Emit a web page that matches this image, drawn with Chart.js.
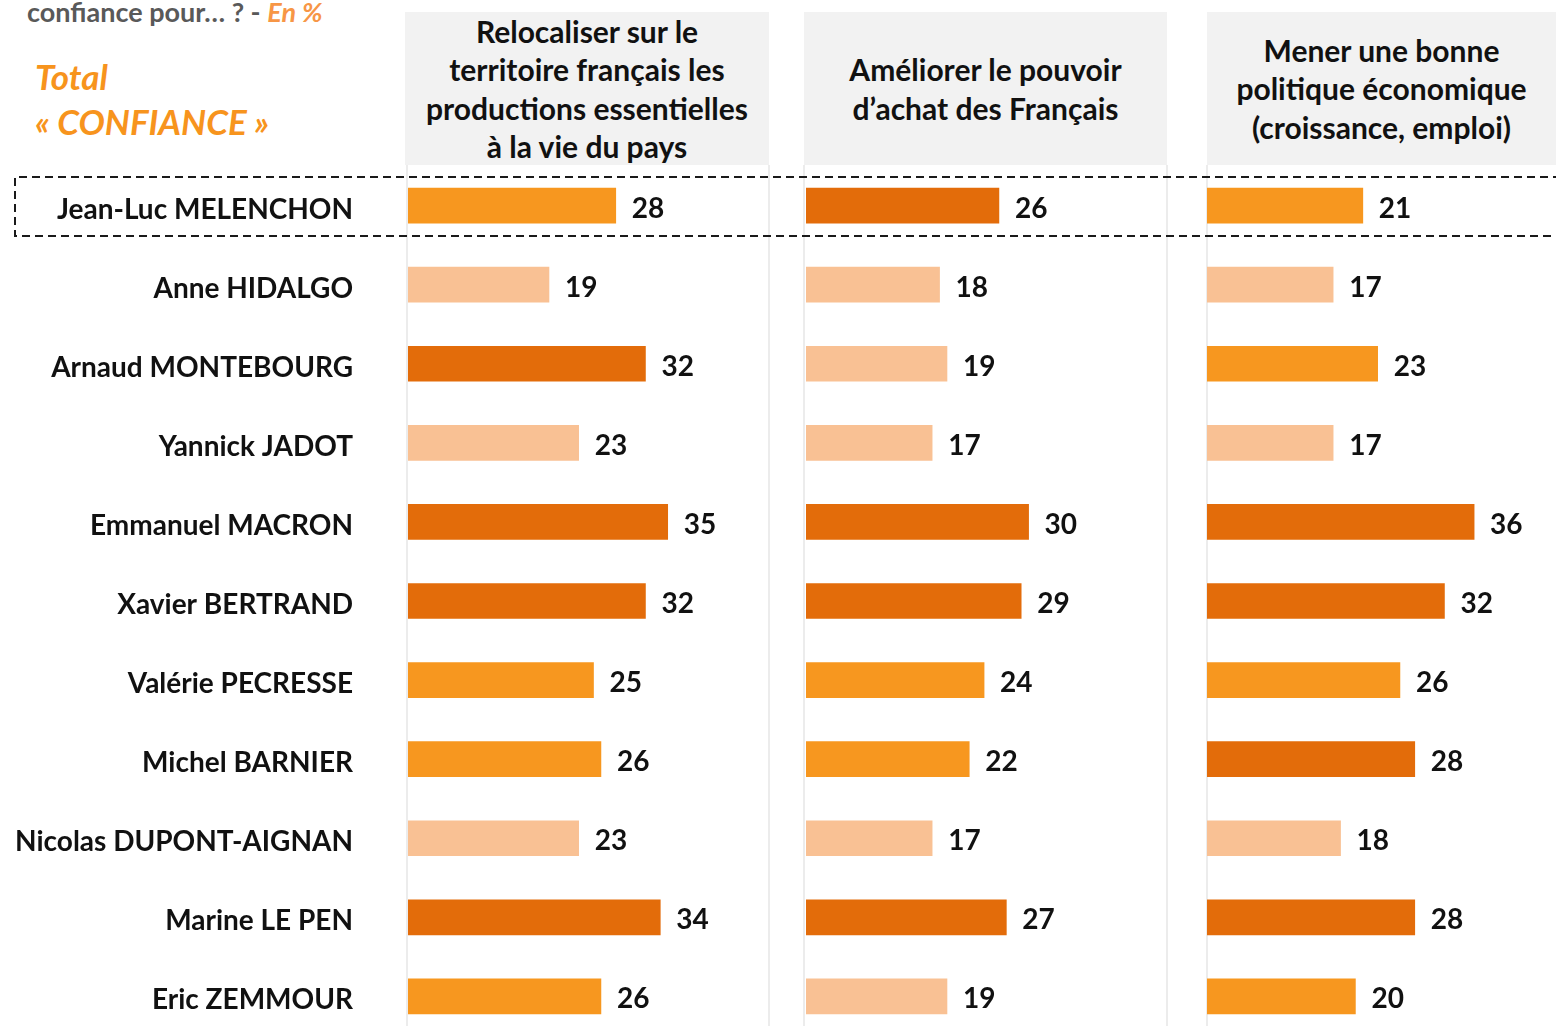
<!DOCTYPE html>
<html>
<head>
<meta charset="utf-8">
<script src="https://cdn.jsdelivr.net/npm/chart.js@4"></script>
<style>
  body { margin: 0; background: #fff; overflow: hidden; width: 1556px; height: 1026px; position: relative; font-family: Lato, "Open Sans", sans-serif; }
  .abs { position: absolute; }
  .entete { position: absolute; top: 12px; height: 153px; background: #f2f2f2; display: flex; align-items: center; justify-content: center; text-align: center; font-weight: bold; font-size: 30px; line-height: 38.5px; color: #111; }
  .trait { position: absolute; top: 165px; height: 861px; width: 2px; background: #ececec; }
  canvas { position: absolute; }
</style>
</head>
<body>

<div class="abs" style="left:27px; top:-5px; font-size:27px; font-weight:bold; color:#595959;">confiance pour… ? - <span style="color:#F79646; font-style:italic;">En %</span></div>
<div class="abs" style="left:35px; top:54px; font-size:35px; font-weight:bold; font-style:italic; color:#F7941D; line-height:45px;">Total<br>« CONFIANCE »</div>

<div class="entete" style="left:405px; width:364px;">Relocaliser sur le<br>territoire français les<br>productions essentielles<br>à la vie du pays</div>
<div class="entete" style="left:804px; width:363px;">Améliorer le pouvoir<br>d’achat des Français</div>
<div class="entete" style="left:1207px; width:349px;">Mener une bonne<br>politique économique<br>(croissance, emploi)</div>

<div class="trait" style="left:406px;"></div>
<div class="trait" style="left:768px;"></div>
<div class="trait" style="left:803px;"></div>
<div class="trait" style="left:1166px;"></div>
<div class="trait" style="left:1206px;"></div>

<canvas id="panel1" width="779" height="870" style="left:0px; top:166px;"></canvas>
<canvas id="panel2" width="371" height="870" style="left:806px; top:166px;"></canvas>
<canvas id="panel3" width="371" height="870" style="left:1207px; top:166px;"></canvas>

<svg class="abs" style="left:0; top:0;" width="1556" height="260">
  <path d="M1600 177 H15 V236 H1600" fill="none" stroke="#1a1a1a" stroke-width="2" stroke-dasharray="8 5"/>
</svg>

<script>
// Données
var candidats = ['Jean-Luc MELENCHON', 'Anne HIDALGO', 'Arnaud MONTEBOURG', 'Yannick JADOT', 'Emmanuel MACRON',
  'Xavier BERTRAND', 'Valérie PECRESSE', 'Michel BARNIER', 'Nicolas DUPONT-AIGNAN', 'Marine LE PEN', 'Eric ZEMMOUR'];

var relocaliser = [28, 19, 32, 23, 35, 32, 25, 26, 23, 34, 26];
var pouvoirAchat = [26, 18, 19, 17, 30, 29, 24, 22, 17, 27, 19];
var politiqueEco = [21, 17, 23, 17, 36, 32, 26, 28, 18, 28, 20];

// niveau de couleur : 0 clair, 1 moyen, 2 foncé
var niveau1 = [1, 0, 2, 0, 2, 2, 1, 1, 0, 2, 1];
var niveau2 = [2, 0, 0, 0, 2, 2, 1, 1, 0, 2, 0];
var niveau3 = [1, 0, 1, 0, 2, 2, 1, 2, 0, 2, 1];

var couleurs = ['#F9C194', '#F7971F', '#E36C0A'];

// étiquettes des valeurs au bout des barres
var etiquettes = {
  id: 'etiquettes',
  afterDatasetsDraw: function(chart) {
    var ctx = chart.ctx;
    var meta = chart.getDatasetMeta(0);
    var valeurs = chart.data.datasets[0].data;
    ctx.save();
    ctx.font = 'bold 28px Lato, "Open Sans", sans-serif';
    ctx.fillStyle = '#111';
    ctx.textBaseline = 'middle';
    ctx.textAlign = 'left';
    meta.data.forEach(function(bar, i) {
      ctx.fillText(valeurs[i], bar.x + 16, bar.y + 3);
    });
    ctx.restore();
  }
};

function creerPanneau(id, valeurs, niveaux, avecNoms) {
  var ctx = document.getElementById(id).getContext('2d');
  return new Chart(ctx, {
    type: 'bar',
    data: {
      labels: candidats,
      datasets: [{
        data: valeurs,
        backgroundColor: niveaux.map(function(n) { return couleurs[n]; }),
        barThickness: 35
      }]
    },
    options: {
      indexAxis: 'y',
      responsive: false,
      animation: false,
      layout: { padding: 0 },
      plugins: { legend: { display: false }, tooltip: { enabled: false } },
      scales: {
        x: { display: false, min: 0, max: 50 },
        y: {
          display: avecNoms,
          grid: { display: false, drawTicks: false },
          border: { display: false },
          ticks: {
            padding: 55,
            labelOffset: 4,
            color: '#111',
            font: { family: 'Lato, "Open Sans", sans-serif', size: 28, weight: 'bold' }
          },
          afterFit: function(scale) {
            if (avecNoms) {
              scale.width = 408;
              scale.paddingTop = 0;
              scale.paddingBottom = 0;
            }
          }
        }
      }
    },
    plugins: [etiquettes]
  });
}

creerPanneau('panel1', relocaliser, niveau1, true);
creerPanneau('panel2', pouvoirAchat, niveau2, false);
creerPanneau('panel3', politiqueEco, niveau3, false);
</script>
</body>
</html>
